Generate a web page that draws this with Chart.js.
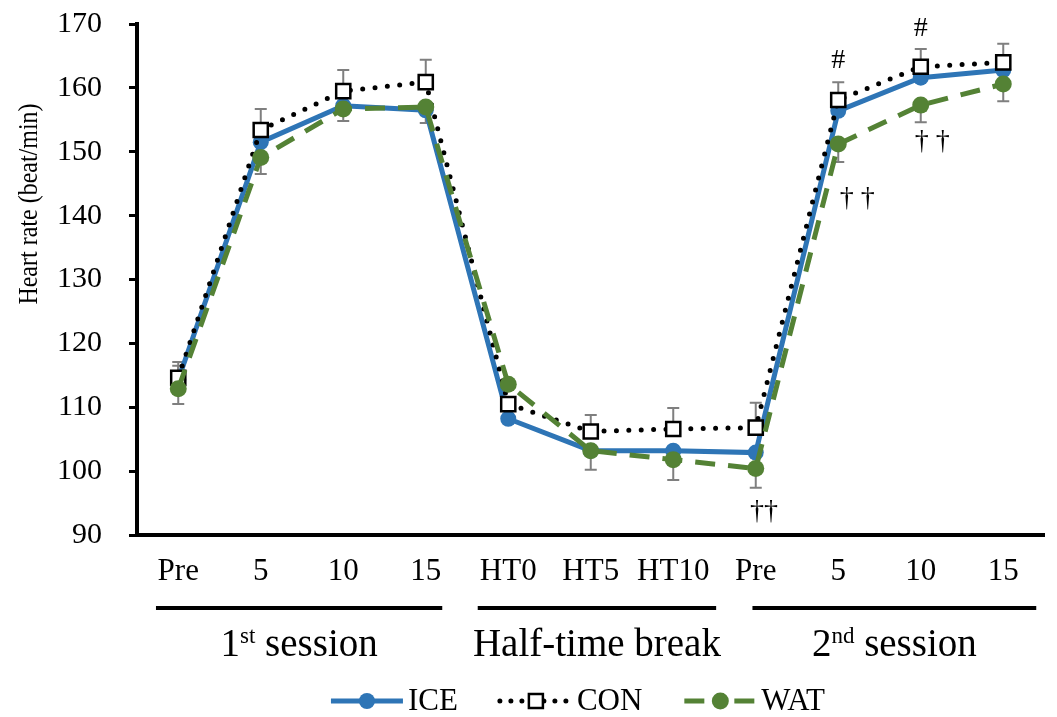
<!DOCTYPE html>
<html>
<head>
<meta charset="utf-8">
<script src="https://cdn.jsdelivr.net/npm/chart.js@4.4.1/dist/chart.umd.min.js"></script>
<style>
  html, body { margin: 0; padding: 0; background: #fff; }
  #wrap { width: 1057px; height: 717px; position: relative; }
</style>
</head>
<body>
<div id="wrap"><canvas id="hrChart"></canvas></div>
<script>
// ================= DATA =================
const categories = ["Pre", "5", "10", "15", "HT0", "HT5", "HT10", "Pre", "5", "10", "15"];

const iceValues = [114.3, 151.5, 157.2, 156.5, 108.2, 103.2, 103.2, 102.9, 156.4, 161.6, 162.8];
const conValues = [114.6, 153.4, 159.5, 160.9, 110.5, 106.2, 106.6, 106.8, 158.1, 163.3, 164.0];
const watValues = [112.9, 149.1, 156.7, 157.0, 113.6, 103.2, 101.8, 100.4, 151.2, 157.3, 160.6];

// error bars (SD), drawn upward for CON/ICE, downward for WAT
const iceSD = [2.2, null, null, null, null, null, null, null, null, null, null];
const conSD = [2.5, 3.3, 3.3, 3.5, null, 2.6, 3.3, 3.9, 2.8, 2.8, 2.9];
const watSD = [2.4, 2.6, 1.9, 2.5, null, 3.0, 3.2, 3.0, 2.8, 2.7, 2.7];

const yTicks = [90, 100, 110, 120, 130, 140, 150, 160, 170];

const groupLabels = [["1", "st", " session"], ["Half-time break", "", ""], ["2", "nd", " session"]];
const groupFrom = [-0.27, 3.63, 6.96];
const groupTo = [3.2, 6.52, 10.4];

// significance marks: text, category position, value
const markTexts = ["#", "#", "\u2020 \u2020", "\u2020 \u2020", "\u2020\u2020"];
const markIndex = [8, 9, 8.23, 9.14, 7.1];
const markValues = [164.3, 169.2, 142.6, 151.6, 93.6];

const seriesNames = ["ICE", "CON", "WAT"];

const SERIF = '"Liberation Serif", "Times New Roman", serif';

// ================= PLUGIN =================
function drawErrorBars(chart, dsIndex, sd, dir) {
  const ctx = chart.ctx;
  const xs = chart.scales.x, ys = chart.scales.y;
  const vals = chart.data.datasets[dsIndex].data;
  ctx.save();
  ctx.strokeStyle = "#7f7f7f";
  ctx.lineWidth = 2;
  sd.forEach((s, i) => {
    if (s == null) return;
    const x = xs.getPixelForValue(i);
    const y0 = ys.getPixelForValue(vals[i]);
    const y1 = ys.getPixelForValue(vals[i] + dir * s);
    ctx.beginPath();
    ctx.moveTo(x, y0);
    ctx.lineTo(x, y1);
    ctx.moveTo(x - 6, y1);
    ctx.lineTo(x + 6, y1);
    ctx.stroke();
  });
  ctx.restore();
}

function drawLegendSymbol(ctx, ds, x, y, w) {
  ctx.save();
  ctx.strokeStyle = ds.borderColor;
  ctx.lineWidth = ds.borderWidth;
  ctx.lineCap = ds.borderCapStyle || "butt";
  if (ds.borderDash) ctx.setLineDash(ds.legendDash || ds.borderDash);
  ctx.beginPath();
  ctx.moveTo(x, y);
  ctx.lineTo(x + w, y);
  ctx.stroke();
  ctx.setLineDash([]);
  const cx = x + w / 2;
  ctx.fillStyle = ds.pointBackgroundColor;
  ctx.strokeStyle = ds.pointBorderColor;
  ctx.lineWidth = ds.pointBorderWidth;
  if (ds.pointStyle === "rect") {
    const s = 7;
    ctx.fillRect(cx - s, y - s, 2 * s, 2 * s);
    ctx.strokeRect(cx - s, y - s, 2 * s, 2 * s);
  } else {
    ctx.beginPath();
    ctx.arc(cx, y, ds.pointRadius, 0, Math.PI * 2);
    ctx.fill();
  }
  ctx.restore();
}

const extrasPlugin = {
  id: "extras",
  beforeDatasetsDraw(chart) {
    drawErrorBars(chart, 0, iceSD, 1);
    drawErrorBars(chart, 1, conSD, 1);
    drawErrorBars(chart, 2, watSD, -1);
  },
  afterDraw(chart) {
    const ctx = chart.ctx;
    const xs = chart.scales.x, ys = chart.scales.y;

    ctx.save();
    ctx.fillStyle = "#000";

    // significance marks
    ctx.textAlign = "center";
    ctx.textBaseline = "middle";
    markTexts.forEach((t, i) => {
      ctx.font = "28px " + SERIF;
      ctx.fillText(t, xs.getPixelForValue(markIndex[i]), ys.getPixelForValue(markValues[i]));
    });

    // group lines
    ctx.strokeStyle = "#000";
    ctx.lineWidth = 4;
    groupFrom.forEach((f, i) => {
      ctx.beginPath();
      ctx.moveTo(xs.getPixelForValue(f), 608);
      ctx.lineTo(xs.getPixelForValue(groupTo[i]), 608);
      ctx.stroke();
    });

    // group labels (with superscripts)
    ctx.textAlign = "left";
    ctx.textBaseline = "alphabetic";
    const big = "39px " + SERIF, small = "23px " + SERIF;
    groupLabels.forEach((parts, i) => {
      ctx.font = big;
      const w0 = ctx.measureText(parts[0]).width;
      const w2 = ctx.measureText(parts[2]).width;
      ctx.font = small;
      const w1 = ctx.measureText(parts[1]).width;
      const cx = (xs.getPixelForValue(groupFrom[i]) + xs.getPixelForValue(groupTo[i])) / 2;
      let x = cx - (w0 + w1 + w2) / 2;
      const base = 656;
      ctx.font = big;
      ctx.fillText(parts[0], x, base);
      x += w0;
      ctx.font = small;
      ctx.fillText(parts[1], x, base - 13);
      x += w1;
      ctx.font = big;
      ctx.fillText(parts[2], x, base);
    });

    // y axis title
    ctx.save();
    ctx.translate(30, 204);
    ctx.rotate(-Math.PI / 2);
    ctx.scale(1, 1.15);
    ctx.font = "24px " + SERIF;
    ctx.textAlign = "center";
    ctx.textBaseline = "middle";
    ctx.fillText("Heart rate (beat/min)", 0, 0);
    ctx.restore();

    // legend
    ctx.font = "31px " + SERIF;
    ctx.textBaseline = "middle";
    ctx.textAlign = "left";
    const symW = 72, gapSym = 5, gapItem = 42;
    const widths = seriesNames.map(n => ctx.measureText(n).width);
    const total = widths.reduce((a, b) => a + b, 0) + 3 * (symW + gapSym) + 2 * gapItem;
    let lx = 578 - total / 2;
    const ly = 701;
    chart.data.datasets.forEach((ds, i) => {
      drawLegendSymbol(ctx, ds, lx, ly, symW);
      lx += symW + gapSym;
      ctx.fillStyle = "#000";
      ctx.font = "31px " + SERIF;
      ctx.fillText(seriesNames[i], lx, ly + 1);
      lx += widths[i] + gapItem;
    });

    ctx.restore();
  }
};

// ================= CHART =================
Chart.defaults.font.family = SERIF;
Chart.defaults.color = "#000";

const ctx = document.getElementById("hrChart").getContext("2d");

new Chart(ctx, {
  type: "line",
  data: {
    labels: categories,
    datasets: [
      {
        label: seriesNames[0],
        data: iceValues,
        borderColor: "#2e75b6",
        borderWidth: 5,
        pointStyle: "circle",
        pointRadius: 8,
        pointBackgroundColor: "#2e75b6",
        pointBorderColor: "#2e75b6",
        pointBorderWidth: 0,
        tension: 0,
        order: 3
      },
      {
        label: seriesNames[1],
        data: conValues,
        borderColor: "#000",
        borderWidth: 5,
        borderDash: [0, 12.4],
        legendDash: [0, 11],
        borderCapStyle: "round",
        pointStyle: "rect",
        pointRadius: 10,
        pointBackgroundColor: "#fff",
        pointBorderColor: "#000",
        pointBorderWidth: 2.5,
        tension: 0,
        order: 2
      },
      {
        label: seriesNames[2],
        data: watValues,
        borderColor: "#548235",
        borderWidth: 5,
        borderDash: [20, 13],
        legendDash: [20, 30],
        pointStyle: "circle",
        pointRadius: 8.5,
        pointBackgroundColor: "#548235",
        pointBorderColor: "#548235",
        pointBorderWidth: 0,
        tension: 0,
        order: 1
      }
    ]
  },
  plugins: [extrasPlugin],
  options: {
    responsive: true,
    maintainAspectRatio: false,
    animation: false,
    layout: { padding: { top: 24, right: 9, left: 0, bottom: 0 } },
    plugins: {
      legend: { display: false },
      tooltip: { enabled: false }
    },
    scales: {
      x: {
        offset: true,
        grid: { display: false, drawTicks: false },
        border: { display: true, color: "#000", width: 4 },
        ticks: { font: { size: 31 }, padding: 18, color: "#000", maxRotation: 0, autoSkip: false },
        afterFit(scale) { scale.height = 182; }
      },
      y: {
        min: yTicks[0],
        max: yTicks[yTicks.length - 1],
        afterBuildTicks(scale) { scale.ticks = yTicks.map(v => ({ value: v })); },
        grid: { drawOnChartArea: false, drawTicks: true, tickLength: 8, lineWidth: 3, color: "#000" },
        border: { display: true, color: "#000", width: 4 },
        ticks: { font: { size: 30 }, padding: 27, color: "#000" },
        afterFit(scale) {
          scale.width = 137;
          scale.paddingTop = 0;
          scale.paddingBottom = 0;
        }
      }
    }
  }
});
</script>
</body>
</html>
